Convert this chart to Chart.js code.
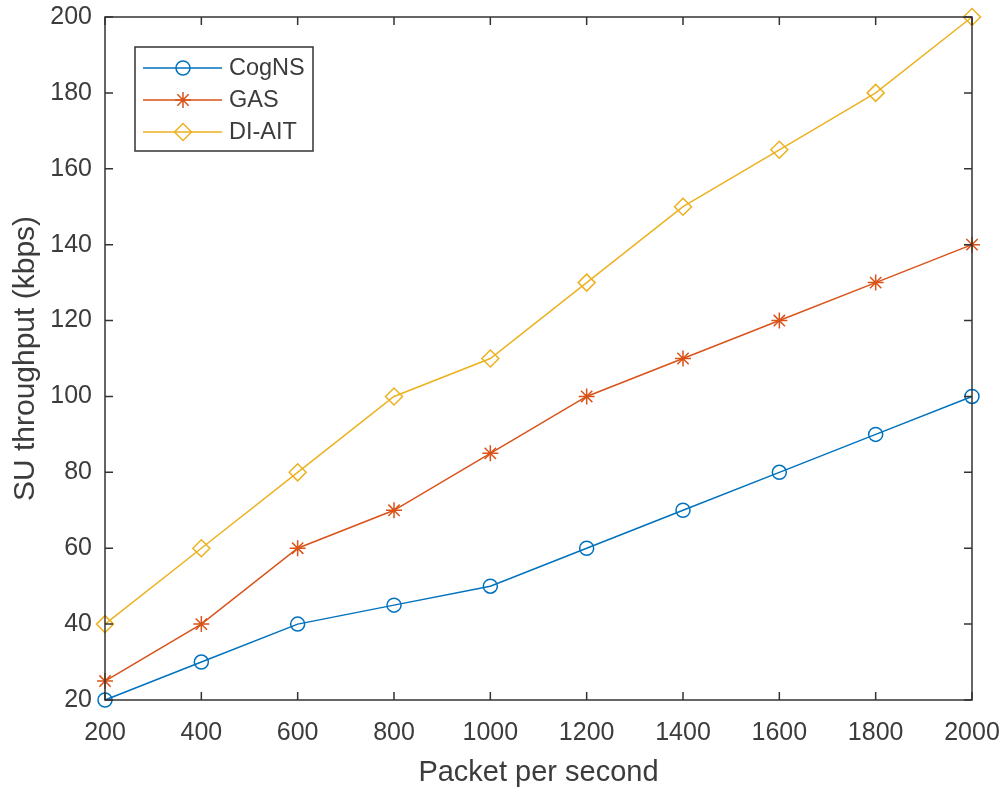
<!DOCTYPE html>
<html>
<head>
<meta charset="utf-8">
<script src="https://cdn.jsdelivr.net/npm/chart.js@4/dist/chart.umd.min.js"></script>
<style>
html,body{margin:0;padding:0;background:#fff;}
canvas{display:block;}
</style>
</head>
<body>
<canvas id="c" width="1005" height="788"></canvas>
<script>
const packetRates = [200, 400, 600, 800, 1000, 1200, 1400, 1600, 1800, 2000];
const cogNS = [20, 30, 40, 45, 50, 60, 70, 80, 90, 100];
const gas = [25, 40, 60, 70, 85, 100, 110, 120, 130, 140];
const diAIT = [40, 60, 80, 100, 110, 130, 150, 165, 180, 200];
const seriesNames = ['CogNS', 'GAS', 'DI-AIT'];
const xTicks = [200, 400, 600, 800, 1000, 1200, 1400, 1600, 1800, 2000];
const yTicks = [20, 40, 60, 80, 100, 120, 140, 160, 180, 200];

const FONT = '"Liberation Sans", Arial, sans-serif';
const TEXT = '#3c3c3c';
const AXIS = '#333333';
const colors = ['#0072BD', '#D95319', '#EDB120'];
const styles = ['circle', 'star', 'rectRot'];
const radii = [7, 8, 8.5];

function pts(ys){ return packetRates.map((x,i)=>({x:x,y:ys[i]})); }
const seriesData = [cogNS, gas, diAIT];

const datasets = seriesData.map((d,i)=>({
  label: seriesNames[i],
  data: pts(d),
  borderColor: colors[i],
  backgroundColor: 'rgba(0,0,0,0)',
  borderWidth: 1.5,
  pointStyle: styles[i],
  pointRadius: radii[i],
  pointBorderWidth: 1.5,
  pointBorderColor: colors[i],
  pointBackgroundColor: 'rgba(0,0,0,0)',
  tension: 0,
  clip: false
}));

function drawBoxAndLegend(chart){
  const ctx = chart.ctx;
  const a = chart.chartArea;
  const xs = chart.scales.x, ys = chart.scales.y;
  ctx.save();
  ctx.strokeStyle = AXIS;
  ctx.lineWidth = 1.5;
  ctx.strokeRect(a.left, a.top, a.right - a.left, a.bottom - a.top);
  const L = 8;
  ctx.beginPath();
  xTicks.forEach(v=>{
    const px = xs.getPixelForValue(v);
    ctx.moveTo(px, a.bottom); ctx.lineTo(px, a.bottom - L);
    ctx.moveTo(px, a.top); ctx.lineTo(px, a.top + L);
  });
  yTicks.forEach(v=>{
    const py = ys.getPixelForValue(v);
    ctx.moveTo(a.left, py); ctx.lineTo(a.left + L, py);
    ctx.moveTo(a.right, py); ctx.lineTo(a.right - L, py);
  });
  ctx.stroke();

  const bx = 135, by = 47, bw = 178, bh = 104;
  ctx.fillStyle = '#fff';
  ctx.fillRect(bx, by, bw, bh);
  ctx.strokeStyle = AXIS;
  ctx.lineWidth = 1.5;
  ctx.strokeRect(bx, by, bw, bh);
  const rowY = [68, 100, 132];
  chart.data.datasets.forEach((ds,i)=>{
    const y = rowY[i];
    ctx.strokeStyle = ds.borderColor;
    ctx.lineWidth = 1.5;
    ctx.beginPath(); ctx.moveTo(143, y); ctx.lineTo(222, y); ctx.stroke();
    ctx.fillStyle = 'rgba(0,0,0,0)';
    Chart.helpers.drawPoint(ctx, {pointStyle: ds.pointStyle, rotation: 0, borderWidth: 1.5, radius: ds.pointRadius}, 183, y);
    ctx.fillStyle = TEXT;
    ctx.font = '23.5px ' + FONT;
    ctx.textBaseline = 'middle';
    ctx.textAlign = 'left';
    ctx.fillText(ds.label, 229, y + 1);
  });
  ctx.restore();
}

const boxPlugin = { id: 'matlabBox', afterDraw: drawBoxAndLegend };

function zeroPad(s){ s.paddingTop = 0; s.paddingBottom = 0; s.paddingLeft = 0; s.paddingRight = 0; }

new Chart(document.getElementById('c'), {
  type: 'line',
  data: { datasets },
  plugins: [boxPlugin],
  options: {
    responsive: false,
    animation: false,
    devicePixelRatio: 1,
    layout: { padding: { top: 17, right: 33, left: 0, bottom: 0 } },
    plugins: { legend: { display: false }, tooltip: { enabled: false } },
    scales: {
      x: {
        type: 'linear',
        min: 200, max: 2000,
        afterBuildTicks(s){ s.ticks = xTicks.map(v=>({value:v})); },
        afterFit(s){ s.height = 88; zeroPad(s); },
        grid: { display: false, drawTicks: false },
        border: { display: false },
        ticks: { color: TEXT, font: { family: FONT, size: 25 }, padding: 18, maxRotation: 0, autoSkip: false,
                 callback: (v)=>String(v) },
        title: { display: true, text: 'Packet per second', color: TEXT, font: { family: FONT, size: 29 }, padding: { top: 0, bottom: -2 } }
      },
      y: {
        type: 'linear',
        min: 20, max: 200,
        afterBuildTicks(s){ s.ticks = yTicks.map(v=>({value:v})); },
        afterFit(s){ s.width = 105; zeroPad(s); },
        grid: { display: false, drawTicks: false },
        border: { display: false },
        ticks: { color: TEXT, font: { family: FONT, size: 25 }, padding: 13, autoSkip: false,
                 callback: (v)=>String(v) },
        title: { display: true, text: 'SU throughput (kbps)', color: TEXT, font: { family: FONT, size: 30 }, padding: { top: 8, bottom: 0 } }
      }
    }
  }
});
</script>
</body>
</html>
